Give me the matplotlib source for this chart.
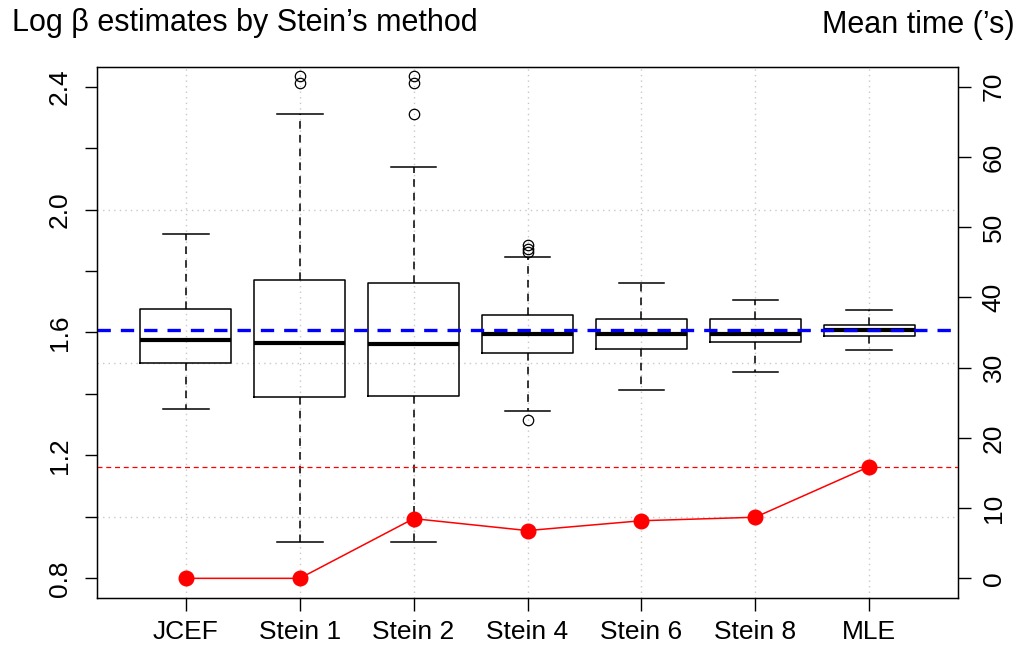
import matplotlib
matplotlib.use("Agg")
import matplotlib.pyplot as plt
import numpy as np

plt.rcParams['font.family'] = ['Liberation Sans', 'DejaVu Sans']

methods = ["JCEF", "Stein 1", "Stein 2", "Stein 4", "Stein 6", "Stein 8", "MLE"]
whislo = [1.352, 0.917, 0.917, 1.346, 1.413, 1.473, 1.544]
q1 = [1.501, 1.391, 1.394, 1.533, 1.546, 1.570, 1.588]
med = [1.576, 1.566, 1.563, 1.594, 1.594, 1.594, 1.608]
q3 = [1.676, 1.770, 1.761, 1.658, 1.645, 1.644, 1.625]
whishi = [1.920, 2.312, 2.140, 1.846, 1.762, 1.707, 1.674]
fliers = [[], [2.436, 2.413], [2.436, 2.413, 2.312], [1.884, 1.873, 1.862, 1.316], [], [], []]
mean_time = [0.0, 0.0, 8.5, 6.8, 8.2, 8.7, 15.9]
true_log_beta = np.log(5)
left_ticks = [0.8, 1.0, 1.2, 1.4, 1.6, 1.8, 2.0, 2.2, 2.4]
left_labels = ["0.8", "", "1.2", "", "1.6", "", "2.0", "", "2.4"]
right_ticks = [0, 10, 20, 30, 40, 50, 60, 70]
grid_y = [1.0, 1.5, 2.0]

fig = plt.figure(figsize=(10.21, 6.51), dpi=100)
ax = fig.add_axes([97/1021, 53/651, 861/1021, 531/651])

pos = np.arange(1, len(methods) + 1)
stats = []
for i in range(len(methods)):
    stats.append(dict(med=med[i], q1=q1[i], q3=q3[i], whislo=whislo[i],
                      whishi=whishi[i], fliers=fliers[i], label=methods[i]))

ax.bxp(stats, positions=pos, widths=0.8, showfliers=True, patch_artist=False,
       boxprops=dict(color='black', linewidth=1.1),
       medianprops=dict(color='black', linewidth=3.0, solid_capstyle='butt'),
       whiskerprops=dict(color='black', linewidth=1.1, linestyle=(0, (5, 4))),
       capprops=dict(color='black', linewidth=1.1),
       capwidths=0.4,
       flierprops=dict(marker='o', markerfacecolor='none', markeredgecolor='black',
                       markersize=7.5, markeredgewidth=0.9, linestyle='none'),
       zorder=3)

ylo, yhi = 0.736, 2.464
ax.set_ylim(ylo, yhi)
ax.set_xlim(0.22, 7.78)

# grid
for x in pos:
    ax.axvline(x, color='#c8c8c8', linestyle=(0, (1, 3)), linewidth=1.0, zorder=1)
for g in grid_y:
    ax.axhline(g, color='#c8c8c8', linestyle=(0, (1, 3)), linewidth=1.0, zorder=1)

ax.axhline(true_log_beta, color='blue', linestyle=(0, (4, 3)), linewidth=2.4, zorder=4)

ax.set_yticks(left_ticks)
ax.set_yticklabels(left_labels, rotation=90, va='center')
ax.set_xticks(pos)
ax.set_xticklabels(methods)
ax.tick_params(axis='both', labelsize=19, length=9, width=1.0, direction='out')
ax.tick_params(axis='y', pad=9)
ax.tick_params(axis='x', pad=7)
for s in ax.spines.values():
    s.set_linewidth(1.0)

ax2 = ax.twinx()
ax2.set_ylim((ylo - 0.8) / 1.6 * 70, (yhi - 0.8) / 1.6 * 70)
ax2.plot(pos, mean_time, color='red', linewidth=1.1, marker='o', markersize=10.5,
         markerfacecolor='red', markeredgecolor='red', zorder=5)
ax2.axhline(mean_time[-1], color='red', linestyle=(0, (4, 3)), linewidth=0.9, zorder=2)
ax2.set_yticks(right_ticks)
ax2.set_yticklabels([str(t) for t in right_ticks], rotation=90, va='center')
ax2.tick_params(axis='y', labelsize=19, length=9, width=1.0, pad=8)

fig.text(12/1021, 1 - 23/651, "Log \u03b2 estimates by Stein\u2019s method", fontsize=22,
         ha='left', va='center')
fig.text(1015/1021, 1 - 25/651, "Mean time (\u2019s)", fontsize=22, ha='right', va='center')

fig.savefig("out.png", dpi=100)
